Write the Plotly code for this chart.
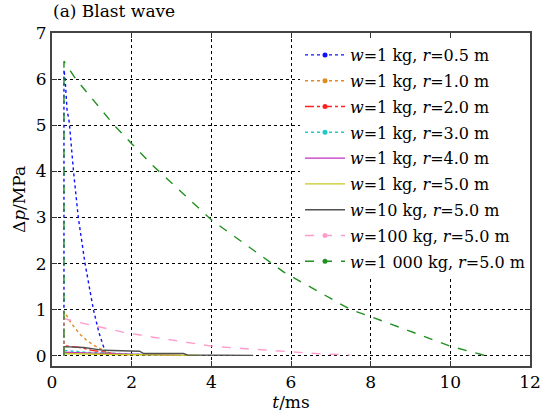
import plotly.graph_objects as go

# ---- data (t in ms, pressure in MPa) ----
names = [
    "<i>w</i>=1 kg, <i>r</i>=0.5 m",
    "<i>w</i>=1 kg, <i>r</i>=1.0 m",
    "<i>w</i>=1 kg, <i>r</i>=2.0 m",
    "<i>w</i>=1 kg, <i>r</i>=3.0 m",
    "<i>w</i>=1 kg, <i>r</i>=4.0 m",
    "<i>w</i>=1 kg, <i>r</i>=5.0 m",
    "<i>w</i>=10 kg, <i>r</i>=5.0 m",
    "<i>w</i>=100 kg, <i>r</i>=5.0 m",
    "<i>w</i>=1 000 kg, <i>r</i>=5.0 m",
]

t_r05 = [0.3, 0.3, 0.33, 0.36, 0.38, 0.42, 0.44, 0.54, 0.63, 0.66, 0.83, 1.04, 1.18, 1.30, 1.37]
p_r05 = [0.0, 6.2, 6.0, 5.45, 5.3, 5.15, 5.0, 4.0, 3.2, 3.0, 2.0, 1.0, 0.5, 0.15, 0.0]

t_r10 = [0.3, 0.3, 0.35, 0.45, 0.56, 0.7, 0.88, 1.05, 1.22, 1.35, 1.45]
p_r10 = [0.0, 0.96, 0.9, 0.75, 0.62, 0.47, 0.33, 0.23, 0.15, 0.08, 0.03]

t_r20 = [0.3, 0.3, 0.7, 1.0, 1.5, 1.9]
p_r20 = [0.0, 0.22, 0.18, 0.12, 0.06, 0.02]

t_r30 = [0.3, 0.3, 0.8, 1.5, 2.3, 2.9]
p_r30 = [0.0, 0.12, 0.08, 0.05, 0.03, 0.01]

t_r40 = [0.3, 0.3, 1.0, 2.0, 3.2]
p_r40 = [0.0, 0.08, 0.06, 0.03, 0.01]

t_r50 = [0.3, 0.3, 1.5, 3.0, 3.7]
p_r50 = [0.0, 0.05, 0.03, 0.02, 0.01]

t_w10 = [0.3, 0.3, 0.8, 1.3, 2.2, 2.3, 3.3, 3.4, 5.05]
p_w10 = [0.0, 0.2, 0.18, 0.12, 0.1, 0.05, 0.05, 0.02, 0.01]

t_w100 = [0.3, 0.3, 0.55, 1.25, 1.8, 2.5, 3.4, 4.0, 4.77, 6.0, 6.8, 7.47]
p_w100 = [0.0, 0.81, 0.75, 0.62, 0.51, 0.41, 0.29, 0.21, 0.16, 0.09, 0.04, 0.02]

t_w1000 = [0.3, 0.3, 0.6, 1.56, 2.0, 2.5, 4.0, 5.83, 7.5, 8.0, 10.0, 10.9]
p_w1000 = [0.0, 6.39, 6.0, 5.0, 4.6, 4.15, 2.95, 1.81, 1.0, 0.85, 0.21, 0.0]

xs = [t_r05, t_r10, t_r20, t_r30, t_r40, t_r50, t_w10, t_w100, t_w1000]
ys = [p_r05, p_r10, p_r20, p_r30, p_r40, p_r50, p_w10, p_w100, p_w1000]
colors = ["#1010ff", "#e08a20", "#ff2020", "#20c8c8", "#c030c0",
          "#c8c820", "#505050", "#ff9ccc", "#209020"]
dashes = ["dot", "dot", "dashdot", "dot", "solid", "solid", "solid", "dash", "dash"]
has_marker = [True, True, True, True, False, False, False, True, True]

x_ticks = [0, 2, 4, 6, 8, 10, 12]
y_ticks = [0, 1, 2, 3, 4, 5, 6, 7]

fig = go.Figure()
for i in range(len(names)):
    fig.add_trace(go.Scatter(
        x=xs[i], y=ys[i], mode="lines", name=names[i],
        line=dict(color=colors[i], width=1.4, dash=dashes[i]),
        showlegend=False, legendgroup=str(i),
    ))
for i in range(len(names)):
    fig.add_trace(go.Scatter(
        x=[None], y=[None],
        mode="lines+markers" if has_marker[i] else "lines",
        name=names[i], legendgroup=str(i),
        line=dict(color=colors[i], width=1.4, dash=dashes[i]),
        marker=dict(color=colors[i], size=5, symbol="circle"),
    ))

serif = "DejaVu Serif"
fig.update_layout(
    width=551, height=416,
    margin=dict(l=52, r=10, t=33, b=44),
    paper_bgcolor="white", plot_bgcolor="white",
    font=dict(family=serif, size=17, color="black"),
    title=dict(text="(a) Blast wave", x=0, xref="paper", xanchor="left",
               y=1, yref="container", yanchor="top", pad=dict(t=5, l=1),
               font=dict(family=serif, size=17, color="black")),
    showlegend=True,
    legend=dict(x=1, xanchor="right", y=0.985, yanchor="top",
                bgcolor="white", borderwidth=0,
                font=dict(family=serif, size=16, color="black"),
                tracegroupgap=2, itemwidth=40),
    xaxis=dict(range=[0, 12], tickvals=x_ticks, ticks="inside", ticklen=5,
               tickcolor="#333", mirror="ticks", showline=True, linecolor="#444",
               linewidth=2, showgrid=True, gridcolor="black", griddash="dot",
               gridwidth=1, zeroline=False,
               title=dict(text="<i>t</i>/ms", standoff=2,
                          font=dict(family=serif, size=17))),
    yaxis=dict(range=[-0.22, 7], tickvals=y_ticks, ticks="inside", ticklen=5,
               tickcolor="#333", mirror="ticks", showline=True, linecolor="#444",
               linewidth=2, showgrid=True, gridcolor="black", griddash="dot",
               gridwidth=1, zeroline=False,
               title=dict(text="Δ<i>p</i>/MPa", standoff=6,
                          font=dict(family=serif, size=17))),
)

fig.write_html("out.html")
